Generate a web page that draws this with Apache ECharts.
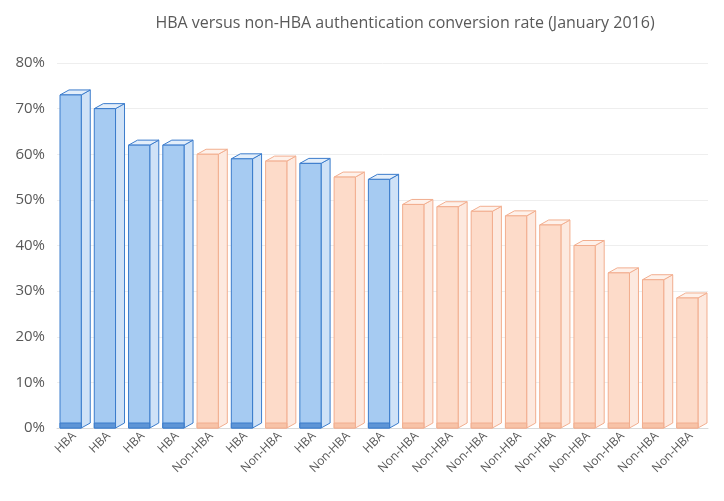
<!DOCTYPE html><html><head><meta charset="utf-8">
<script src="https://cdn.jsdelivr.net/npm/echarts@6/dist/echarts.min.js"></script>
<style>html,body{margin:0;background:#fff}#c{width:724px;height:501px}</style></head><body><div id="c"></div>
<script>
const categories=["HBA","HBA","HBA","HBA","Non-HBA","HBA","Non-HBA","HBA","Non-HBA","HBA","Non-HBA","Non-HBA","Non-HBA","Non-HBA","Non-HBA","Non-HBA","Non-HBA","Non-HBA","Non-HBA"];
const values=[0.73,0.70,0.62,0.62,0.60,0.59,0.585,0.58,0.55,0.545,0.49,0.485,0.475,0.465,0.445,0.40,0.34,0.325,0.285];
const chart=echarts.init(document.getElementById('c'));
function render(params,api){
  const i=api.value(0),v=api.value(1);
  const top=api.coord([i,v]),bot=api.coord([i,0]);
  const band=api.size([1,0])[0];
  const w=band*0.62,dx=9,dy=5;
  const x0=top[0]-w/2-dx/2+1,x1=x0+w;
  const hba=categories[i]==='HBA';
  const fill=hba?'#a6cbf2':'#fddbc9',stroke=hba?'#3b7ccc':'#f2ae8f';
  const side=hba?'#cfe2f7':'#fde9df',topc=hba?'#e3eefa':'#fef1ea';
  const baseH=5;
  return {type:'group',children:[
    {type:'polygon',shape:{points:[[x1,top[1]],[x1+dx,top[1]-dy],[x1+dx,bot[1]-dy],[x1,bot[1]]]},style:{fill:side,stroke:stroke,lineWidth:1}},
    {type:'polygon',shape:{points:[[x0,top[1]],[x0+dx,top[1]-dy],[x1+dx,top[1]-dy],[x1,top[1]]]},style:{fill:topc,stroke:stroke,lineWidth:1}},
    {type:'rect',shape:{x:x0,y:top[1],width:w,height:bot[1]-top[1]},style:{fill:fill,stroke:stroke,lineWidth:1}},
    {type:'rect',shape:{x:x0,y:bot[1]-baseH,width:w,height:baseH},style:{fill:hba?'#5e95d6':'#f7c3a8',stroke:stroke,lineWidth:1}}
  ]};
}
chart.setOption({
  animation:false,
  title:{text:'HBA versus non-HBA authentication conversion rate (January 2016)',left:400,top:10,textAlign:'center',
    textStyle:{fontFamily:'Open Sans',fontSize:16,fontWeight:'normal',color:'#595959'}},
  grid:{left:57,right:16,top:63,bottom:73},
  xAxis:{type:'category',data:categories,axisTick:{show:false},
    axisLine:{lineStyle:{color:'#d9d9d9'}},
    axisLabel:{rotate:45,interval:0,color:'#595959',fontFamily:'Open Sans',fontSize:12,margin:6}},
  yAxis:{type:'value',min:0,max:0.8,interval:0.1,
    axisLabel:{formatter:v=>Math.round(v*100)+'%',color:'#595959',fontFamily:'Open Sans',fontSize:15,margin:12},
    splitLine:{lineStyle:{color:'#eeeeee'}}},
  series:[{type:'custom',renderItem:render,encode:{x:0,y:1},data:values.map((v,i)=>[i,v])}]
});
</script></body></html>
